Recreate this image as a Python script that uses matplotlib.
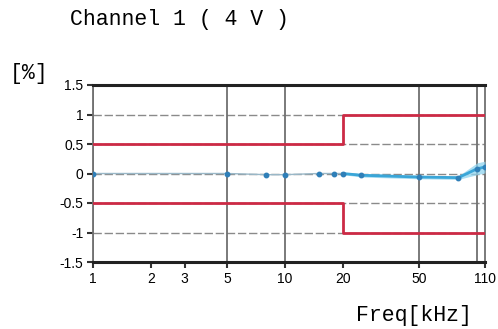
import matplotlib
matplotlib.use("Agg")
import matplotlib.pyplot as plt
import numpy as np

# Data
freq = [1, 5, 8, 10, 15, 18, 20, 25, 50, 80, 100, 110]
error = [0.0, 0.0, -0.02, -0.02, 0.0, 0.0, 0.0, -0.03, -0.06, -0.07, 0.08, 0.11]
band = [0.01, 0.01, 0.01, 0.01, 0.01, 0.01, 0.02, 0.03, 0.03, 0.03, 0.1, 0.1]
limit_freq = [1, 20, 20, 110]
limit_upper = [0.5, 0.5, 1.0, 1.0]
limit_lower = [-0.5, -0.5, -1.0, -1.0]
xticks = [1, 2, 3, 5, 10, 20, 50, 110]
xtick_labels = ["1", "2", "3", "5", "10", "20", "50", "110"]
yticks = [-1.5, -1, -0.5, 0, 0.5, 1, 1.5]
ytick_labels = ["-1.5", "-1", "-0.5", "0", "0.5", "1", "1.5"]
vgrid = [1, 5, 10, 50, 100]
hgrid = [-1, -0.5, 0, 0.5, 1]

fig = plt.figure(figsize=(4.98, 3.29), dpi=100)
ax = fig.add_axes([93/498, 1-262/329, (485-93)/498, (262-85)/329])
ax.set_xscale("log")
ax.set_xlim(1, 110)
ax.set_ylim(-1.5, 1.5)

for g in hgrid:
    ax.axhline(g, color="#8a8a8a", lw=1.0, ls=(0, (6, 2)), zorder=1)
for g in vgrid:
    ax.axvline(g, color="#707070", lw=1.3, zorder=1)

ax.step(limit_freq, limit_upper, where="post", color="#cc2a45", lw=2.0, zorder=3)
ax.step(limit_freq, limit_lower, where="post", color="#cc2a45", lw=2.0, zorder=3)

f = np.array(freq); e = np.array(error); b = np.array(band)
k = freq.index(20)
ax.fill_between(f[k:], (e - b)[k:], (e + b)[k:], color="#8fd3ee", alpha=0.75, lw=0, zorder=4)
ax.plot(f[:k + 1], e[:k + 1], color="#9ab8c8", lw=1.0, zorder=5)
ax.plot(f[k:], e[k:], color="#3aa6d8", lw=2.0, zorder=5)
ax.plot(f, e, "o", color="#2f7fb8", ms=3.2, zorder=6)

ax.set_xticks(xticks)
ax.set_xticklabels(xtick_labels, fontfamily="Liberation Sans", fontsize=10)
ax.xaxis.set_minor_locator(matplotlib.ticker.NullLocator())
ax.set_yticks(yticks)
ax.set_yticklabels(ytick_labels, fontfamily="Liberation Sans", fontsize=10)
ax.tick_params(axis="both", length=4, width=1.5, color="#333333", pad=3)

for s in ["top", "bottom"]:
    ax.spines[s].set_linewidth(2.2)
    ax.spines[s].set_color("#222222")
for s in ["left", "right"]:
    ax.spines[s].set_linewidth(1.3)
    ax.spines[s].set_color("#707070")

fig.text(179/498, 1-20/329, "Channel 1 ( 4 V )", fontfamily="Liberation Mono",
         fontsize=15.5, ha="center", va="center")
fig.text(10/498, 1-73/329, "[%]", fontfamily="Liberation Mono",
         fontsize=15.5, ha="left", va="center")
fig.text(472/498, 1-316/329, "Freq[kHz]", fontfamily="Liberation Mono",
         fontsize=15.5, ha="right", va="center")

fig.savefig("out.png", dpi=100)
